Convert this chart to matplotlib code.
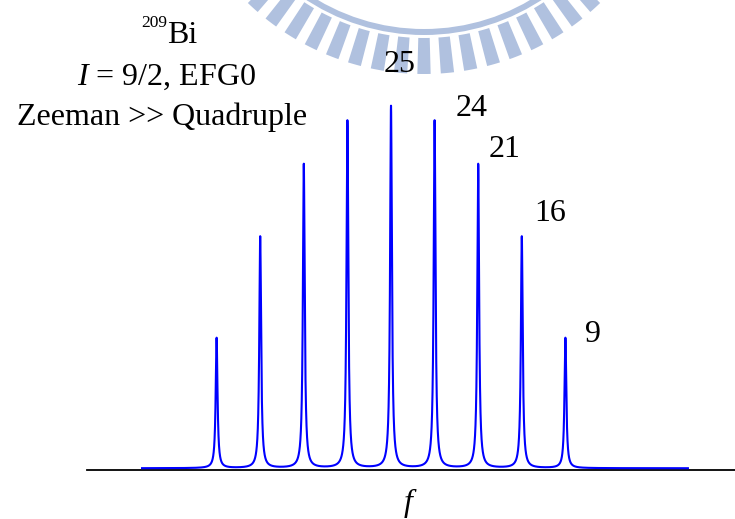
import numpy as np
import matplotlib
matplotlib.use('Agg')
from matplotlib import pyplot as plt
from matplotlib.patches import Wedge

# 209Bi, I = 9/2 : nine NMR lines, intensities from the labels in the figure
positions = [-4, -3, -2, -1, 0, 1, 2, 3, 4]          # line position in units of the splitting
intensities = [9, 16, 21, 24, 25, 24, 21, 16, 9]
labelled = [4, 5, 6, 7, 8]                            # which lines carry a number
label_offsets = [(9, 34), (37, 5), (26, 7), (28, 16), (28, -4)]  # pixels from the peak top

gamma = 0.025        # Lorentzian half width (units of the splitting)
background = 0.12    # small offset of the curve above the axis
f_min, f_max = -5.71, 6.81

plt.rcParams['font.family'] = ['Liberation Serif', 'DejaVu Serif']
plt.rcParams['mathtext.fontset'] = 'custom'
plt.rcParams['mathtext.rm'] = 'Liberation Serif'
plt.rcParams['mathtext.it'] = 'Liberation Serif:italic'

W, H = 735, 519
fig = plt.figure(figsize=(W / 100, H / 100), dpi=100)

# background layer in pixel coordinates (watermark + free text)
bg = fig.add_axes([0, 0, 1, 1])
bg.set_xlim(0, W)
bg.set_ylim(H, 0)
bg.axis('off')

wm = '#b0c1df'
cx, cy = 424, -180
bg.add_patch(Wedge((cx, cy), 215, 20, 160, width=6, color=wm, lw=0))
step = 5.3
for k in range(-14, 15):
    a = 90 + k * step
    bg.add_patch(Wedge((cx, cy), 254, a - 1.5, a + 1.5, width=36, color=wm, lw=0))

# spectrum axes
x0, y0 = 87, 470          # left end and height of the f axis (pixels)
fc, df, dI = 391, 43.6, 14.48
ax = fig.add_axes([x0 / W, (H - y0) / H, (W - x0) / W, y0 / H])
ax.patch.set_alpha(0)
ax.set_xlim((x0 - fc) / df, (W - fc) / df)
ax.set_ylim(0, y0 / dI)
ax.axis('off')

f = np.linspace(f_min, f_max, 40001)
f = np.sort(np.concatenate([f, np.array(positions, dtype=float)]))
spec = np.full_like(f, background)
for p, a in zip(positions, intensities):
    spec += a * gamma**2 / ((f - p)**2 + gamma**2)

ax.axhline(0, color='black', lw=1.3, clip_on=False)
ax.plot(f, spec, color='#0000ff', lw=1.5, clip_on=False)

for i, (dx, dy) in zip(labelled, label_offsets):
    ax.annotate(str(intensities[i]), xy=(positions[i], intensities[i] + background),
                xytext=(dx, dy), textcoords='offset pixels',
                ha='center', va='baseline', fontsize=23)

fs = 23
bg.text(167, 27, '209', ha='right', va='baseline', fontsize=12.5)
bg.text(167, 43, 'Bi', ha='left', va='baseline', fontsize=fs)
bg.text(166, 85, '$I$ = 9/2, EFG0', ha='center', va='baseline', fontsize=fs)
bg.text(162, 125, 'Zeeman >> Quadruple', ha='center', va='baseline', fontsize=fs)
bg.text(408, 511, 'f', ha='center', va='baseline', fontsize=fs, style='italic')

fig.savefig('out.png', dpi=100)
